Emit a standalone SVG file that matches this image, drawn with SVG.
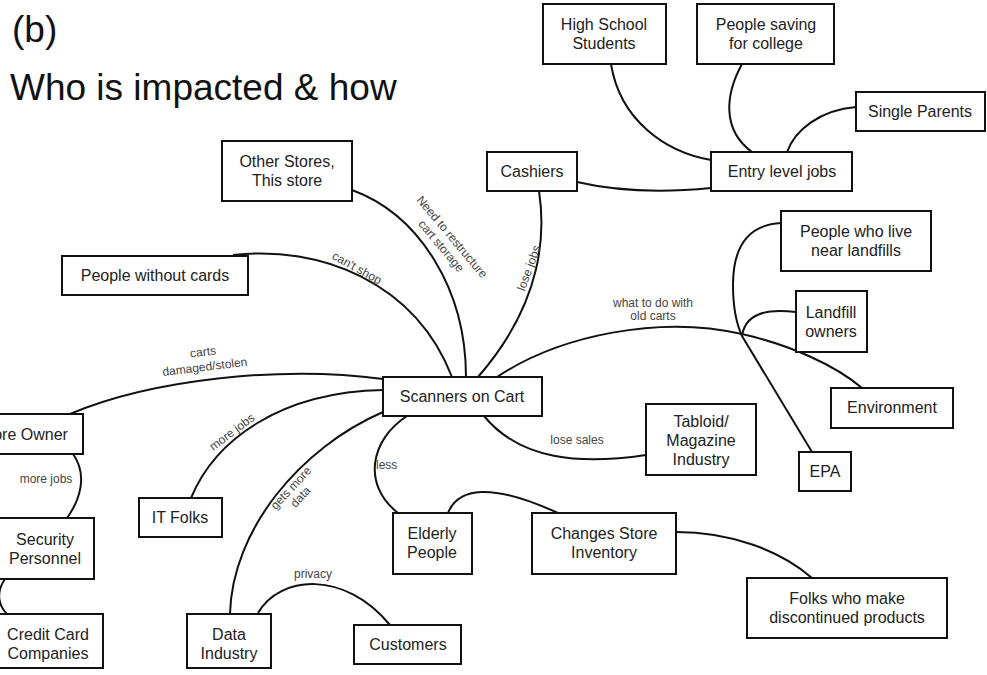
<svg xmlns="http://www.w3.org/2000/svg" width="987" height="675" viewBox="0 0 987 675">
<style>
.box{fill:#fff;stroke:#111;stroke-width:2}
.nt{font-family:"Liberation Sans",Arial,sans-serif;font-size:16px;fill:#222;text-anchor:middle}
.lb{font-family:"Liberation Sans",Arial,sans-serif;font-size:12px;fill:#444;text-anchor:middle}
.ttl{font-family:"Liberation Sans",Arial,sans-serif;font-size:37px;fill:#111}
#connectors path{fill:none;stroke:#111;stroke-width:2}
</style>
<rect width="987" height="675" fill="#fff"/>
<text class="ttl" x="12" y="42">(b)</text>
<text class="ttl" x="10" y="100">Who is impacted &amp; how</text>
<g id="connectors">
<path d="M611 64 C620 120 665 152 711 160"/>
<path d="M742 64 C725 95 722 130 752 152"/>
<path d="M856 107 C820 110 795 130 787 152"/>
<path d="M577 182 C620 192 670 192 711 188"/>
<path d="M539 191 C545 230 545 300 478 377"/>
<path d="M352 190 C420 215 466 290 466 377"/>
<path d="M233 255 C320 245 415 282 452 377"/>
<path d="M70 414 C150 380 280 365 383 379"/>
<path d="M191 498 C215 440 280 392 383 390"/>
<path d="M230 614 C232 530 300 448 383 412"/>
<path d="M73 454 C88 475 80 500 67 518"/>
<path d="M5 579 C-4 592 -2 605 7 614"/>
<path d="M258 613 C280 575 345 570 390 625"/>
<path d="M407 416 C370 440 362 485 398 513"/>
<path d="M484 416 C520 460 580 465 646 455"/>
<path d="M497 377 C560 335 660 315 742 334 C790 345 835 365 862 388"/>
<path d="M781 223 C745 225 733 250 733 285 C733 310 737 325 742 336 L812 452"/>
<path d="M796 312 C765 308 745 315 742 336"/>
<path d="M448 513 C458 488 490 482 558 513"/>
<path d="M676 532 C730 532 780 550 812 578"/>
</g>
<g id="labels">
<g transform="translate(529 268) rotate(-70)"><text class="lb" x="0" y="0" dominant-baseline="central">lose jobs</text></g>
<g transform="translate(452 237) rotate(50)"><text class="lb" x="0" y="0" dominant-baseline="central">Need to restructure</text><text class="lb" x="0" y="14" dominant-baseline="central">cart storage</text></g>
<g transform="translate(357 268) rotate(29)"><text class="lb" x="0" y="0" dominant-baseline="central">can't shop</text></g>
<g transform="translate(203 352) rotate(-7)"><text class="lb" x="0" y="0" dominant-baseline="central">carts</text><text class="lb" x="0" y="15" dominant-baseline="central">damaged/stolen</text></g>
<g transform="translate(232 432) rotate(-37)"><text class="lb" x="0" y="0" dominant-baseline="central">more jobs</text></g>
<g transform="translate(291 488) rotate(-47)"><text class="lb" x="0" y="0" dominant-baseline="central">gets more</text><text class="lb" x="0" y="13" dominant-baseline="central">data</text></g>
<text class="lb" x="46" y="483">more jobs</text>
<text class="lb" x="653" y="307">what to do with</text>
<text class="lb" x="653" y="320">old carts</text>
<text class="lb" x="577" y="444">lose sales</text>
<text class="lb" x="376" y="469" style="text-anchor:start">less</text>
<text class="lb" x="313" y="578">privacy</text>
</g>
<g id="n-hs"><rect class="box" x="543" y="4" width="123" height="60"/><text class="nt" x="604" y="30">High School</text><text class="nt" x="604" y="49">Students</text></g>
<g id="n-ps"><rect class="box" x="697" y="4" width="137" height="60"/><text class="nt" x="766" y="30">People saving</text><text class="nt" x="766" y="49">for college</text></g>
<g id="n-sp"><rect class="box" x="856" y="92" width="129" height="39"/><text class="nt" x="920" y="117">Single Parents</text></g>
<g id="n-entry"><rect class="box" x="711" y="152" width="141" height="39"/><text class="nt" x="782" y="177">Entry level jobs</text></g>
<g id="n-cash"><rect class="box" x="487" y="152" width="90" height="39"/><text class="nt" x="532" y="177">Cashiers</text></g>
<g id="n-other"><rect class="box" x="222" y="141" width="130" height="60"/><text class="nt" x="287" y="167">Other Stores,</text><text class="nt" x="287" y="186">This store</text></g>
<g id="n-pwc"><rect class="box" x="62" y="256" width="186" height="39"/><text class="nt" x="155" y="281">People without cards</text></g>
<g id="n-pwl"><rect class="box" x="781" y="211" width="150" height="60"/><text class="nt" x="856" y="237">People who live</text><text class="nt" x="856" y="256">near landfills</text></g>
<g id="n-lfo"><rect class="box" x="796" y="291" width="71" height="61"/><text class="nt" x="831" y="318">Landfill</text><text class="nt" x="831" y="337">owners</text></g>
<g id="n-env"><rect class="box" x="831" y="388" width="122" height="40"/><text class="nt" x="892" y="413">Environment</text></g>
<g id="n-scan"><rect class="box" x="383" y="377" width="159" height="39"/><text class="nt" x="462" y="402">Scanners on Cart</text></g>
<g id="n-tab"><rect class="box" x="646" y="404" width="110" height="71"/><text class="nt" x="701" y="427">Tabloid/</text><text class="nt" x="701" y="446">Magazine</text><text class="nt" x="701" y="465">Industry</text></g>
<g id="n-epa"><rect class="box" x="799" y="452" width="52" height="39"/><text class="nt" x="825" y="477">EPA</text></g>
<g id="n-owner"><rect class="box" x="-37" y="414" width="120" height="40"/><text class="nt" x="23" y="440">Store Owner</text></g>
<g id="n-sec"><rect class="box" x="-4" y="518" width="98" height="61"/><text class="nt" x="45" y="545">Security</text><text class="nt" x="45" y="564">Personnel</text></g>
<g id="n-cc"><rect class="box" x="-7" y="614" width="110" height="54"/><text class="nt" x="48" y="640">Credit Card</text><text class="nt" x="48" y="659">Companies</text></g>
<g id="n-it"><rect class="box" x="139" y="498" width="83" height="39"/><text class="nt" x="180" y="523">IT Folks</text></g>
<g id="n-data"><rect class="box" x="187" y="614" width="84" height="54"/><text class="nt" x="229" y="640">Data</text><text class="nt" x="229" y="659">Industry</text></g>
<g id="n-cust"><rect class="box" x="354" y="625" width="107" height="39"/><text class="nt" x="408" y="650">Customers</text></g>
<g id="n-eld"><rect class="box" x="393" y="513" width="79" height="61"/><text class="nt" x="432" y="539">Elderly</text><text class="nt" x="432" y="558">People</text></g>
<g id="n-chg"><rect class="box" x="532" y="513" width="144" height="61"/><text class="nt" x="604" y="539">Changes Store</text><text class="nt" x="604" y="558">Inventory</text></g>
<g id="n-folks"><rect class="box" x="747" y="578" width="200" height="60"/><text class="nt" x="847" y="604">Folks who make</text><text class="nt" x="847" y="623">discontinued products</text></g>
</svg>
